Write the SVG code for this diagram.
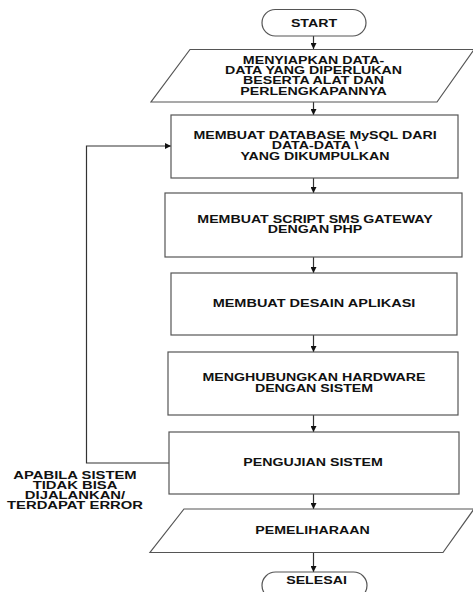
<svg xmlns="http://www.w3.org/2000/svg" width="473" height="592" viewBox="0 0 473 592">
<defs>
<style>
.shape{fill:#fff;stroke:#555;stroke-width:1.2}
.line{fill:none;stroke:#333;stroke-width:1.2}
.t{font-family:"Liberation Sans",Arial,sans-serif;font-weight:bold;font-size:10px;fill:#111;text-anchor:middle}
</style>
<marker id="ah" viewBox="0 0 8 8" refX="8" refY="4" markerWidth="6" markerHeight="6" markerUnits="userSpaceOnUse" orient="auto">
<path d="M0,0 L8,4 L0,8 Z" fill="#111"/>
</marker>
</defs>
<rect width="473" height="592" fill="#fff"/>
<g id="connectors">
<line class="line" x1="313.5" y1="36" x2="313.5" y2="49" marker-end="url(#ah)"/>
<line class="line" x1="313.5" y1="102" x2="313.5" y2="115" marker-end="url(#ah)"/>
<line class="line" x1="313.5" y1="178" x2="313.5" y2="193" marker-end="url(#ah)"/>
<line class="line" x1="313.5" y1="257" x2="313.5" y2="273" marker-end="url(#ah)"/>
<line class="line" x1="313.5" y1="335" x2="313.5" y2="352" marker-end="url(#ah)"/>
<line class="line" x1="313.5" y1="415" x2="313.5" y2="432" marker-end="url(#ah)"/>
<line class="line" x1="313.5" y1="494" x2="313.5" y2="509" marker-end="url(#ah)"/>
<line class="line" x1="313.5" y1="552" x2="313.5" y2="572" marker-end="url(#ah)"/>
<polyline class="line" points="169,463 86.5,463 86.5,146 171,146" marker-end="url(#ah)"/>
</g>
<g id="start">
<rect class="shape" x="262" y="9.5" width="104" height="26.5" rx="13.25"/>
<text class="t" transform="translate(314,27) scale(1.42 1)" x="0" y="0">START</text>
</g>
<g id="siapkan">
<polygon class="shape" points="190,49.5 474,49.5 437,102 151,102"/>
<text class="t" transform="translate(313.5,63.5) scale(1.42 1)"><tspan x="0" y="0">MENYIAPKAN DATA-</tspan><tspan x="0" y="10.5">DATA YANG DIPERLUKAN</tspan><tspan x="0" y="21">BESERTA ALAT DAN</tspan><tspan x="0" y="31.5">PERLENGKAPANNYA</tspan></text>
</g>
<g id="database">
<rect class="shape" x="171" y="115" width="287" height="63"/>
<text class="t" transform="translate(315,138.5) scale(1.42 1)"><tspan x="0" y="0">MEMBUAT DATABASE MySQL DARI</tspan><tspan x="0" y="10.8">DATA-DATA \</tspan><tspan x="0" y="21.6">YANG DIKUMPULKAN</tspan></text>
</g>
<g id="script">
<rect class="shape" x="165" y="193" width="297" height="64"/>
<text class="t" transform="translate(315,222.5) scale(1.42 1)"><tspan x="0" y="0">MEMBUAT SCRIPT SMS GATEWAY</tspan><tspan x="0" y="10.5">DENGAN PHP</tspan></text>
</g>
<g id="desain">
<rect class="shape" x="171" y="273" width="286" height="62"/>
<text class="t" transform="translate(314,307) scale(1.45 1)">MEMBUAT DESAIN APLIKASI</text>
</g>
<g id="hardware">
<rect class="shape" x="168" y="352" width="290" height="63"/>
<text class="t" transform="translate(314,381) scale(1.42 1)"><tspan x="0" y="0">MENGHUBUNGKAN HARDWARE</tspan><tspan x="0" y="10.7">DENGAN SISTEM</tspan></text>
</g>
<g id="pengujian">
<rect class="shape" x="169" y="432" width="290" height="62"/>
<text class="t" transform="translate(313,466.3) scale(1.42 1)">PENGUJIAN SISTEM</text>
</g>
<g id="pemeliharaan">
<polygon class="shape" points="184,509 474,509 443,552.5 150,552.5"/>
<text class="t" transform="translate(312.5,534.3) scale(1.42 1)">PEMELIHARAAN</text>
</g>
<g id="selesai">
<rect class="shape" x="262" y="572" width="105" height="27" rx="13.5"/>
<text class="t" transform="translate(316.5,583.6) scale(1.42 1)">SELESAI</text>
</g>
<g id="label">
<text class="t" transform="translate(75,478.6) scale(1.48 1)"><tspan x="0" y="0">APABILA SISTEM</tspan><tspan x="0" y="10.2">TIDAK BISA</tspan><tspan x="0" y="20.4">DIJALANKAN/</tspan><tspan x="0" y="30.6">TERDAPAT ERROR</tspan></text>
</g>
</svg>
